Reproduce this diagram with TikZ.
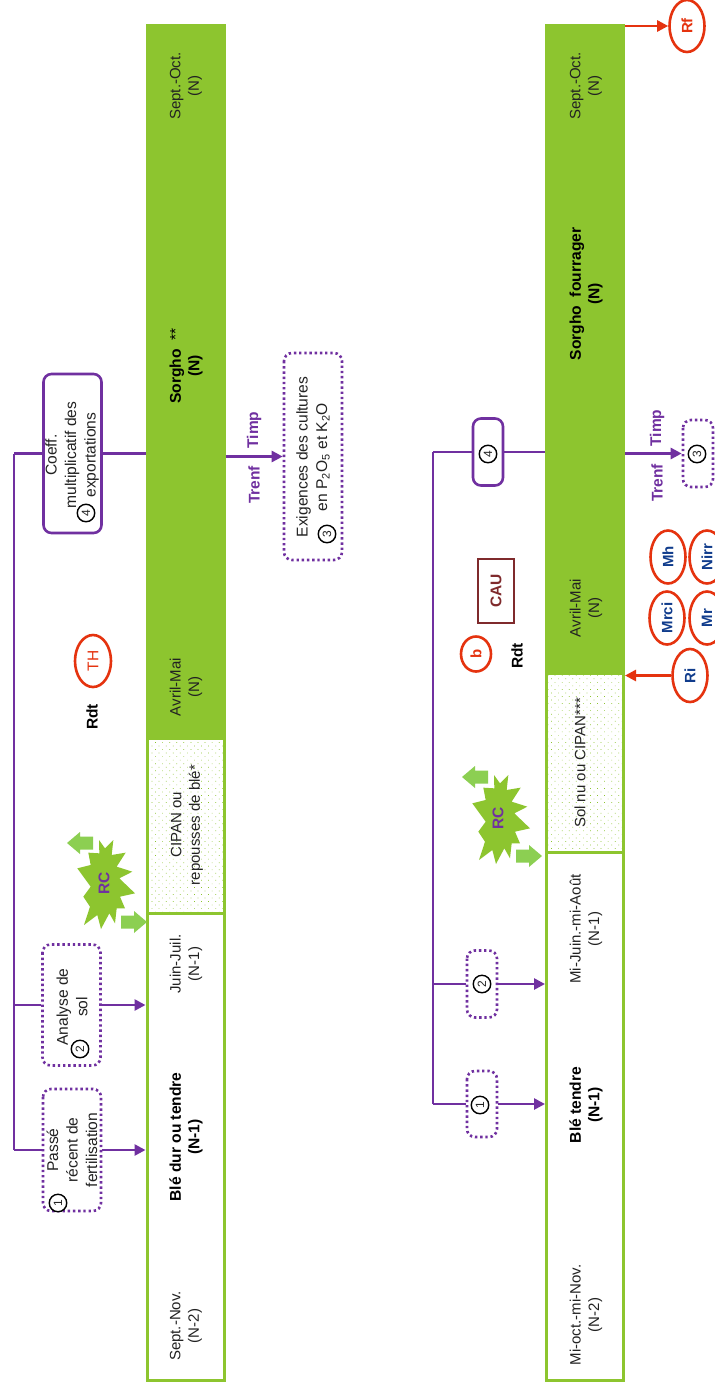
\documentclass[tikz,border=0pt]{standalone}
\usepackage{fontspec}
\setmainfont{Liberation Sans}
\usetikzlibrary{arrows.meta,shapes.geometric,patterns.meta}
\definecolor{cropgreen}{HTML}{8DC52F}
\definecolor{arrowgreen}{HTML}{8CCF52}
\definecolor{linepurple}{HTML}{7030A0}
\definecolor{linered}{HTML}{E5330F}
\definecolor{textblue}{HTML}{103C8C}
\definecolor{brownbox}{HTML}{7F2A2C}
\definecolor{textdark}{HTML}{222222}
\tikzset{
  x=1pt,y=-1pt,
  lab/.style={rotate=90,align=center,inner sep=0,font=\fontsize{15}{18.5}\selectfont,text=textdark},
  boxlab/.style={lab,font=\fontsize{15.6}{19.5}\selectfont},
  blab/.style={lab,font=\fontsize{15.6}{18.5}\selectfont\bfseries,text=black},
  cropfull/.style={draw=cropgreen,line width=3pt,fill=cropgreen,inner sep=0,minimum width=77pt},
  cropwhite/.style={draw=cropgreen,line width=3pt,fill=white,inner sep=0,minimum width=77pt},
  cropdots/.style={draw=cropgreen,line width=3pt,inner sep=0,minimum width=77pt,
    pattern={Dots[distance=5pt,angle=45,radius=0.5pt]},pattern color=cropgreen},
  solidbox/.style={rectangle,rounded corners=8pt,draw=linepurple,line width=2.6pt,rotate=90,inner sep=0,fill=white},
  dotbox/.style={rectangle,rounded corners=8pt,draw=linepurple,line width=2.6pt,dash pattern=on 2.4pt off 2.8pt,rotate=90,inner sep=0,fill=white},
  pline/.style={draw=linepurple,line width=2.6pt},
  parrow/.style={pline,-{Triangle[length=11pt,width=11pt]}},
  rarrow/.style={draw=linered,line width=2.6pt,-{Triangle[length=11pt,width=11pt]}},
  num/.style={circle,draw=black,line width=1.4pt,minimum size=17.5pt,inner sep=0,rotate=90,font=\fontsize{12}{12}\selectfont,fill=white,text=textdark},
  redell/.style={ellipse,draw=linered,line width=2.6pt,rotate=90,inner sep=0,fill=white,
    font=\fontsize{15}{15}\bfseries\selectfont,text=textblue},
  plab/.style={rotate=90,inner sep=0,font=\fontsize{15.5}{15.5}\bfseries\selectfont,text=linepurple},
  blacklab/.style={rotate=90,inner sep=0,font=\fontsize{15.5}{15.5}\bfseries\selectfont,text=black},
}
\newcommand{\leftblock}[2]{\fill[arrowgreen] (#1,#2) -- (#1+13,#2-11) -- (#1+13,#2-6.5) -- (#1+26,#2-6.5) -- (#1+26,#2+6.5) -- (#1+13,#2+6.5) -- (#1+13,#2+11) -- cycle;}
\newcommand{\rightblock}[2]{\fill[arrowgreen] (#1,#2-6.5) -- (#1+13,#2-6.5) -- (#1+13,#2-11) -- (#1+26,#2) -- (#1+13,#2+11) -- (#1+13,#2+6.5) -- (#1,#2+6.5) -- cycle;}
\newcommand{\burst}[2]{\fill[cropgreen,shift={(#1,#2)},scale=0.33333] (87,30) -- (105,55) -- (130,30) -- (125,75) -- (167,68) -- (140,110) -- (187,125) -- (148,145) -- (195,190) -- (150,200) -- (165,235) -- (140,235) -- (135,280) -- (118,250) -- (93,297) -- (82,255) -- (42,285) -- (60,230) -- (40,200) -- (62,170) -- (22,115) -- (62,105) -- (55,68) -- (88,70) -- cycle;}
\begin{document}
\begin{tikzpicture}
\clip (0,0) rectangle (715,1393);
\fill[white] (0,0) rectangle (715,1393);

% ---------- top diagram ----------
\node[cropwhite,minimum height=467pt] (wheatA) at (185.5,1146.5) {};
\node[cropdots,minimum height=175pt] (coverA) at (185.5,825.5) {};
\node[cropfull,minimum height=712pt] (sorghoA) at (185.5,381.5) {};
\node[lab] (a1) at (186,86) {Sept.-Oct.\\(N)};
\node[blab] (a2) at (186,366) {Sorgho\ \ {\mdseries **}\\(N)};
\node[lab] (a3) at (186,687) {Avril-Mai\\(N)};
\node[lab] (a4) at (187,825) {CIPAN ou\\repousses de blé*};
\node[lab] (a5) at (186,964) {Juin-Juil.\\(N-1)};
\node[blab] (a6) at (186,1137) {Blé dur ou tendre\\(N-1)};
\node[lab] (a7) at (186,1326) {Sept.-Nov.\\(N-2)};

\node[solidbox,minimum width=159pt,minimum height=58pt] (coefA) at (72.5,453.5) {};
\node[dotbox,minimum width=121pt,minimum height=58pt] (solA) at (71.5,1005) {};
\node[dotbox,minimum width=122pt,minimum height=58pt] (pastA) at (72,1150) {};
\node[dotbox,minimum width=207pt,minimum height=58pt] (needA) at (313,456.5) {};

\coordinate (railAtop) at (14,453.5);
\coordinate (railAmid) at (14,1005);
\coordinate (railAbot) at (14,1150);
\draw[pline] (railAtop) -- (railAbot);
\draw[pline] (railAtop) -- (coefA);
\draw[pline] (railAmid) -- (solA);
\draw[pline] (railAbot) -- (pastA);
\draw[pline] (coefA) -- (coefA -| sorghoA.west);
\draw[parrow] (solA) -- (solA -| wheatA.west);
\draw[parrow] (pastA) -- (pastA -| wheatA.west);
\draw[parrow] (sorghoA.east |- needA) -- (needA);

\node[boxlab] (t1) at (72,455) {Coeff.\\multiplicatif des\\exportations};
\node[boxlab] (t2) at (72,1007) {Analyse de\\sol};
\node[boxlab] (t3) at (72,1150) {Passé\\récent de\\fertilisation};
\node[boxlab] (t4) at (313,457) {Exigences des cultures\\en P\textsubscript{2}O\textsubscript{5} et K\textsubscript{2}O};
\node[num] (n4a) at (86,513) {4};
\node[num] (n3a) at (327,534) {3};
\node[num] (n2a) at (80,1049) {2};
\node[num] (n1a) at (58,1203) {1};

\node[plab] (ta) at (254,485) {Trenf};
\node[plab] (ua) at (254,430) {Timp};
\node[blacklab] (rdta) at (92,717) {Rdt};
\node[redell,minimum width=52pt,minimum height=36pt,text=linered,font=\fontsize{15.5}{15.5}\selectfont] (th) at (93,661) {TH};

\burst{70}{830}
\node[plab] (rca) at (104,883) {RC};
\leftblock{67}{843}
\rightblock{121}{922}

% ---------- bottom diagram ----------
\node[cropwhite,minimum height=528pt] (wheatB) at (585,1116) {};
\node[cropdots,minimum height=179pt] (coverB) at (585,762.5) {};
\node[cropfull,minimum height=648pt] (sorghoB) at (585,349) {};
\node[lab] (b1) at (586,86) {Sept.-Oct.\\(N)};
\node[blab] (b2) at (586,294) {Sorgho\ \ fourrager\\(N)};
\node[lab] (b3) at (586,608) {Avril-Mai\\(N)};
\node[lab] (b4) at (580,763) {Sol nu ou CIPAN***};
\node[lab] (b5) at (586,929) {Mi-Juin.-mi-Août\\(N-1)};
\node[blab] (b6) at (586,1105) {Blé tendre\\(N-1)};
\node[lab] (b7) at (586,1315) {Mi-oct.-mi-Nov.\\(N-2)};

\node[solidbox,minimum width=67pt,minimum height=30pt] (coefB) at (488,452) {};
\node[dotbox,minimum width=67pt,minimum height=30pt] (solB) at (482,984) {};
\node[dotbox,minimum width=66pt,minimum height=30pt] (pastB) at (482,1104) {};
\node[dotbox,minimum width=67pt,minimum height=30pt] (needB) at (698,453.5) {};

\coordinate (railBtop) at (433,452);
\coordinate (railBmid) at (433,984);
\coordinate (railBbot) at (433,1104);
\draw[pline] (railBtop) -- (railBbot);
\draw[pline] (railBtop) -- (coefB);
\draw[pline] (railBmid) -- (solB);
\draw[pline] (railBbot) -- (pastB);
\draw[pline] (coefB) -- (coefB -| sorghoB.west);
\draw[parrow] (solB) -- (solB -| wheatB.west);
\draw[parrow] (pastB) -- (pastB -| wheatB.west);
\draw[parrow] (sorghoB.east |- needB) -- (needB);

\node[num] (n4b) at (488,454) {4};
\node[num] (n3b) at (697,454) {3};
\node[num] (n2b) at (482,984) {2};
\node[num] (n1b) at (480,1105) {1};

\node[plab] (tb) at (657,483) {Trenf};
\node[plab] (ub) at (657,428) {Timp};
\node[blacklab] (rdtb) at (517,656) {Rdt};
\node[rotate=90,draw=brownbox,line width=2.4pt,minimum width=64pt,minimum height=36pt,inner sep=0,text=brownbox,font=\fontsize{15.5}{15.5}\bfseries\selectfont] (cau) at (496,591) {CAU};
\node[redell,minimum width=35pt,minimum height=30pt,text=linered] (bb) at (476,654) {b};

\node[redell,minimum width=53pt,minimum height=35pt] (mh) at (668,557) {Mh};
\node[redell,minimum width=53pt,minimum height=35pt] (nirr) at (707,557) {Nirr};
\node[redell,minimum width=53pt,minimum height=35pt] (mrci) at (667,618) {Mrci};
\node[redell,minimum width=53pt,minimum height=35pt] (mr) at (707,618) {Mr};
\node[redell,minimum width=53pt,minimum height=35pt] (ri) at (690,675.5) {Ri};
\node[redell,minimum width=52pt,minimum height=35pt,text=linered] (rf) at (687,26) {Rf};
\draw[rarrow] (ri) -- (ri -| sorghoB.east);
\draw[rarrow] (sorghoB.east |- rf) -- (rf);

\burst{465}{765}
\node[plab] (rcb) at (498,818) {RC};
\leftblock{462}{777}
\rightblock{516}{856}
\end{tikzpicture}
\end{document}
